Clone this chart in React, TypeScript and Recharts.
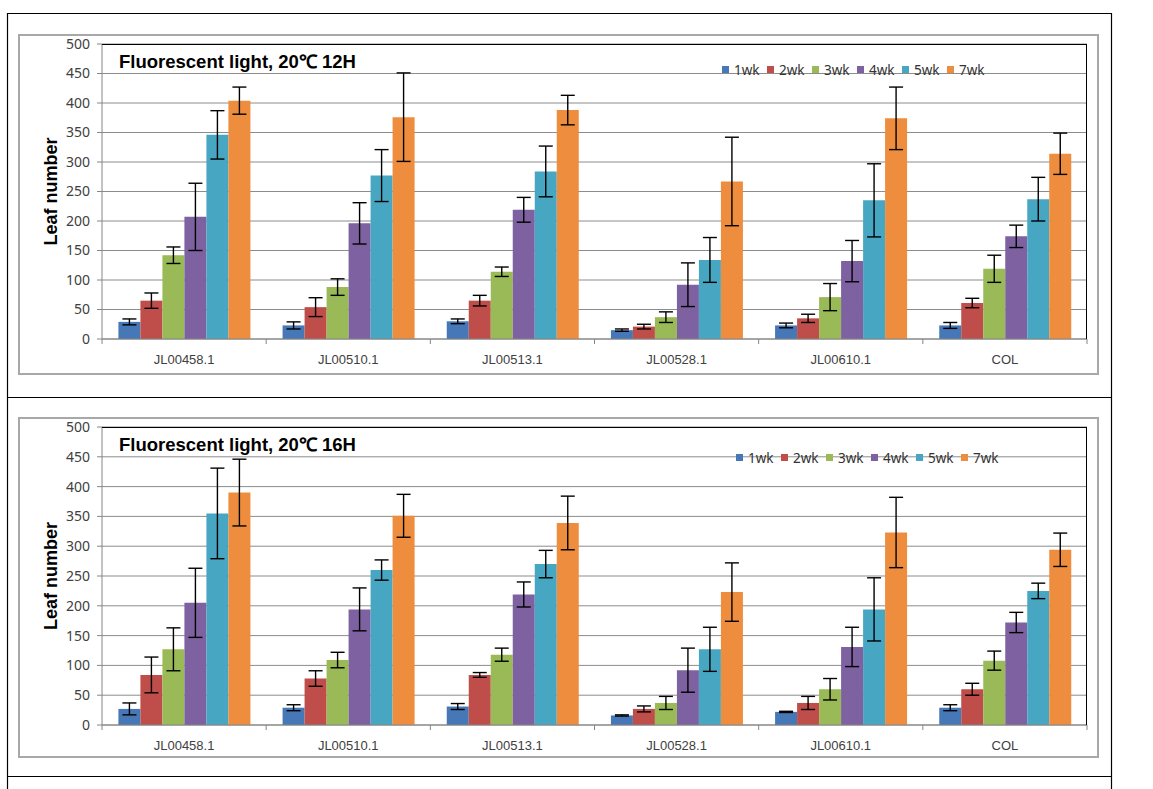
import React from 'react';
import { BarChart, Bar, XAxis, YAxis, CartesianGrid, ErrorBar } from 'recharts';

const categories = ['JL00458.1', 'JL00510.1', 'JL00513.1', 'JL00528.1', 'JL00610.1', 'COL'];
const seriesNames = ['1wk', '2wk', '3wk', '4wk', '5wk', '7wk'];
const seriesColors = ['#4677B6', '#BF4D4A', '#99BA56', '#7E61A0', '#47A7C2', '#EE8D3E'];
const yTicks = [0, 50, 100, 150, 200, 250, 300, 350, 400, 450, 500];

// Panel 1: Fluorescent light, 20℃ 12H
const title12 = 'Fluorescent light, 20\u2103 12H';
const m12_1wk = [29, 23, 30, 15, 23, 23];
const m12_2wk = [65, 54, 65, 21, 35, 61];
const m12_3wk = [142, 88, 114, 37, 71, 119];
const m12_4wk = [207, 196, 219, 92, 132, 174];
const m12_5wk = [346, 277, 284, 134, 235, 237];
const m12_7wk = [404, 376, 388, 267, 374, 314];
const e12_1wk = [5, 6, 4, 2, 4, 5];
const e12_2wk = [13, 16, 9, 4, 7, 8];
const e12_3wk = [14, 14, 8, 9, 23, 23];
const e12_4wk = [57, 35, 21, 37, 35, 19];
const e12_5wk = [41, 44, 43, 38, 62, 37];
const e12_7wk = [23, 75, 25, 75, 53, 35];

// Panel 2: Fluorescent light, 20℃ 16H
const title16 = 'Fluorescent light, 20\u2103 16H';
const m16_1wk = [27, 29, 31, 16, 22, 29];
const m16_2wk = [84, 78, 84, 27, 37, 60];
const m16_3wk = [127, 109, 118, 37, 60, 108];
const m16_4wk = [205, 194, 219, 92, 131, 172];
const m16_5wk = [355, 260, 270, 127, 194, 225];
const m16_7wk = [390, 351, 339, 223, 323, 294];
const e16_1wk = [10, 5, 5, 1, 1, 5];
const e16_2wk = [30, 13, 4, 5, 11, 10];
const e16_3wk = [36, 13, 11, 11, 18, 16];
const e16_4wk = [58, 36, 21, 37, 33, 17];
const e16_5wk = [76, 17, 23, 37, 53, 13];
const e16_7wk = [56, 36, 45, 49, 59, 28];

const CHART_LEFT = 18;
const CHART_W = 1081;
const Y_AXIS_W = 84;
const MARGIN_R = 12;
const PLOT_W = CHART_W - Y_AXIS_W - MARGIN_R;
const BAND = PLOT_W / categories.length;

const XTick = (props: any) => {
  const { x, y, payload, index } = props;
  const left = x - BAND / 2;
  const right = x + BAND / 2;
  return (
    <g>
      <line x1={left} y1={y} x2={left} y2={y + 5} stroke="#868686" strokeWidth={1} />
      {index === categories.length - 1 && (
        <line x1={right} y1={y} x2={right} y2={y + 5} stroke="#868686" strokeWidth={1} />
      )}
      <text x={x} y={y + 25} textAnchor="middle" fontSize={13} fontFamily="Liberation Sans, Arial, sans-serif" fill="#404040">
        {payload.value}
      </text>
    </g>
  );
};

function Panel(props: any) {
  const { frameTop, plotH, title, means, errs, legendX, legendY } = props;
  const frameH = 341;
  const marginTop = 10;
  const xAxisH = frameH - marginTop - plotH;
  const data = categories.map((c, i) => {
    const row: any = { name: c };
    seriesNames.forEach((s, k) => {
      row['m' + k] = means[k][i];
      row['e' + k] = errs[k][i];
    });
    return row;
  });
  const cy = marginTop + plotH / 2;
  return (
    <>
      <div style={{ position: 'absolute', left: CHART_LEFT, top: frameTop, width: CHART_W, height: frameH, boxSizing: 'border-box', border: '2px solid #a8a8a8' }} />
      <div style={{ position: 'absolute', left: CHART_LEFT, top: frameTop, width: CHART_W, height: frameH }}>
        <BarChart width={CHART_W} height={frameH} data={data} margin={{ top: marginTop, right: MARGIN_R, left: 0, bottom: 0 }} barCategoryGap="10%" barGap={0}>
          <CartesianGrid horizontal vertical={false} stroke="#8c8c8c" strokeWidth={1} />
          <XAxis dataKey="name" height={xAxisH} tickLine={false} tickSize={0} tickMargin={0} axisLine={{ stroke: '#868686' }} tick={<XTick />} interval={0} />
          <YAxis
            width={Y_AXIS_W}
            domain={[0, 500]}
            ticks={yTicks}
            interval={0}
            tickSize={5}
            tickMargin={7}
            axisLine={{ stroke: '#868686' }}
            tickLine={{ stroke: '#868686' }}
            tick={{ fontSize: 14, fill: '#404040', fontFamily: 'Noto Sans, sans-serif' }}
            label={{
              content: () => (
                <text x={39} y={cy} transform={`rotate(-90 39 ${cy})`} textAnchor="middle" fontSize={18} fontWeight="bold" fontFamily="Liberation Sans, Arial, sans-serif" fill="#000">
                  Leaf number
                </text>
              ),
            }}
          />
          {seriesNames.map((s, k) => (
            <Bar key={s} dataKey={'m' + k} name={s} fill={seriesColors[k]} isAnimationActive={false}>
              <ErrorBar dataKey={'e' + k} width={7} strokeWidth={1.4} stroke="#000" direction="y" />
            </Bar>
          ))}
        </BarChart>
      </div>
      <div style={{ position: 'absolute', left: CHART_LEFT + Y_AXIS_W, top: frameTop + marginTop, width: PLOT_W, height: plotH, boxSizing: 'border-box', borderTop: '1px solid #000', borderRight: '1px solid #000', pointerEvents: 'none' }} />
      <svg style={{ position: 'absolute', left: 0, top: 0, pointerEvents: 'none' }} width={1153} height={789}>
        <text x={119} y={frameTop + 34} fontSize={18.5} fontWeight="bold" fontFamily="Liberation Sans, Arial, sans-serif" fill="#000">
          {title}
        </text>
        {seriesNames.map((s, k) => (
          <g key={s}>
            <rect x={legendX + k * 45} y={legendY - 4} width={7} height={7} fill={seriesColors[k]} />
            <text x={legendX + k * 45 + 12} y={legendY + 5} fontSize={13.5} fontFamily="Noto Sans, sans-serif" fill="#333">
              {s}
            </text>
          </g>
        ))}
      </svg>
    </>
  );
}

export default function App() {
  return (
    <div style={{ position: 'absolute', left: 0, top: 0, width: 1153, height: 789, background: '#fff', overflow: 'hidden' }}>
      <svg style={{ position: 'absolute', left: 0, top: 0 }} width={1153} height={789}>
        <line x1={7.5} y1={13} x2={7.5} y2={789} stroke="#000" strokeWidth={1.2} />
        <line x1={1111.5} y1={13} x2={1111.5} y2={789} stroke="#000" strokeWidth={1.2} />
        <line x1={7} y1={13.5} x2={1112} y2={13.5} stroke="#000" strokeWidth={1.2} />
        <line x1={7} y1={397.5} x2={1112} y2={397.5} stroke="#000" strokeWidth={1.2} />
        <line x1={7} y1={776.5} x2={1112} y2={776.5} stroke="#000" strokeWidth={1.2} />
      </svg>
      <Panel
        frameTop={34}
        plotH={295}
        title={title12}
        means={[m12_1wk, m12_2wk, m12_3wk, m12_4wk, m12_5wk, m12_7wk]}
        errs={[e12_1wk, e12_2wk, e12_3wk, e12_4wk, e12_5wk, e12_7wk]}
        legendX={722}
        legendY={70}
      />
      <Panel
        frameTop={417}
        plotH={298}
        title={title16}
        means={[m16_1wk, m16_2wk, m16_3wk, m16_4wk, m16_5wk, m16_7wk]}
        errs={[e16_1wk, e16_2wk, e16_3wk, e16_4wk, e16_5wk, e16_7wk]}
        legendX={736}
        legendY={458}
      />
    </div>
  );
}
